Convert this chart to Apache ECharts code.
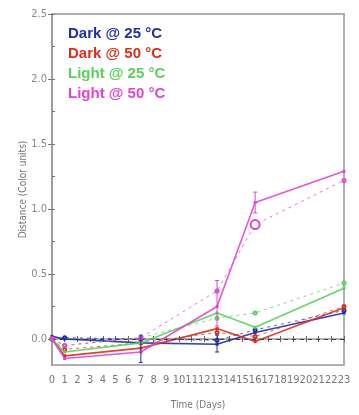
<!DOCTYPE html>
<html><head><meta charset="utf-8">
<script src="https://cdn.jsdelivr.net/npm/echarts@6/dist/echarts.min.js"></script>
<style>html,body{margin:0;padding:0;background:#fff}#c{width:359px;height:415px}</style>
</head><body><div id="c"></div>
<script>
// ---- data ----
const days = [0, 1, 7, 13, 16, 23];
const seriesNames = ['Dark @ 25 °C', 'Dark @ 50 °C', 'Light @ 25 °C', 'Light @ 50 °C'];
const dark25Solid  = [0.02, 0.00, -0.03, -0.04, 0.05, 0.20];
const dark25Dash   = [0.00, 0.01, 0.00, -0.01, 0.07, 0.22];
const dark50Solid  = [0.00, -0.13, -0.07, 0.08, -0.02, 0.24];
const dark50Dash   = [0.00, -0.08, -0.03, 0.05, 0.02, 0.25];
const light25Solid = [0.00, -0.10, -0.03, 0.20, 0.09, 0.39];
const light25Dash  = [0.00, -0.05, 0.01, 0.16, 0.20, 0.43];
const light50Solid = [0.00, -0.15, -0.10, 0.25, 1.05, 1.29];
const light50Dash  = [0.00, -0.05, 0.01, 0.37, 0.88, 1.22];
// error bars: [day, low, high, series index]
const errorBars = [[7, -0.18, 0.03, 0], [13, -0.10, 0.03, 0], [13, 0.10, 0.45, 3], [16, 0.97, 1.13, 3]];
const yLabelValues = [0, 0.5, 1.0, 1.5, 2.0, 2.5];
const yMinorValues = [0.25, 0.75, 1.25, 1.75, 2.25];
const xRange = [0, 23];
const yRange = [-0.2, 2.5];

const colors = ['#1f2fa6', '#d8301e', '#5ccf5c', '#e244cf'];
const solids = [dark25Solid, dark50Solid, light25Solid, light50Solid];
const dashes = [dark25Dash, dark50Dash, light25Dash, light50Dash];
const pair = arr => days.map((d, i) => [d, arr[i]]);

const series = [];
seriesNames.forEach((name, k) => {
  series.push({
    name, type: 'line', data: pair(solids[k]), color: colors[k],
    lineStyle: { width: 1.6, color: colors[k], opacity: 0.9 },
    symbol: 'rect', symbolSize: 3, itemStyle: { color: colors[k] },
    z: 3 + k
  });
  series.push({
    name, type: 'line', data: pair(dashes[k]), color: colors[k],
    lineStyle: { width: 1, type: [3, 4], color: colors[k], opacity: 0.75 },
    symbol: 'emptyCircle',
    symbolSize: (k === 3) ? ((v, p) => p.dataIndex === 4 ? 9 : 3) : 3,
    itemStyle: { color: colors[k], borderWidth: 1 },
    z: 2 + k,
    markLine: k === 0 ? {
      silent: true, symbol: 'none', label: { show: false },
      lineStyle: { color: '#3a3a5a', type: [4, 4], width: 1.2 },
      data: [{ yAxis: 0 }]
    } : undefined
  });
});
series.push({
  type: 'custom', name: 'err', z: 10,
  data: errorBars,
  renderItem: (params, api) => {
    const x = api.value(0), lo = api.value(1), hi = api.value(2), c = colors[api.value(3)];
    const p1 = api.coord([x, lo]), p2 = api.coord([x, hi]);
    return { type: 'group', children: [
      { type: 'line', shape: { x1: p1[0], y1: p1[1], x2: p2[0], y2: p2[1] }, style: { stroke: c, lineWidth: 1 } },
      { type: 'line', shape: { x1: p1[0]-2, y1: p1[1], x2: p1[0]+2, y2: p1[1] }, style: { stroke: c, lineWidth: 1 } },
      { type: 'line', shape: { x1: p2[0]-2, y1: p2[1], x2: p2[0]+2, y2: p2[1] }, style: { stroke: c, lineWidth: 1 } }
    ]};
  }
});

const narrow = '"Liberation Sans Narrow", "DejaVu Sans Condensed", "Liberation Sans", sans-serif';
const axisGray = '#9a9a9a';

const chart = echarts.init(document.getElementById('c'), null, { renderer: 'canvas' });
chart.setOption({
  animation: false,
  backgroundColor: '#fff',
  grid: { left: 52, right: 15, top: 14, bottom: 50, show: true, borderColor: '#b0b0b0', borderWidth: 2 },
  legend: {
    left: 58, top: 21, orient: 'vertical', itemGap: 5, icon: 'none', itemWidth: 0, itemHeight: 0,
    selectedMode: false,
    textStyle: { fontFamily: '"Liberation Sans", Arial, sans-serif', fontWeight: 'bold', fontSize: 15 },
    data: seriesNames.map((n, k) => ({ name: n, textStyle: { color: colors[k] } }))
  },
  xAxis: [{
    type: 'value', min: xRange[0], max: xRange[1], interval: 1, position: 'bottom',
    name: 'Time (Days)', nameLocation: 'middle', nameGap: 35, nameMoveOverlap: false,
    nameTextStyle: { color: '#777', fontSize: 10, fontFamily: narrow },
    axisLine: { lineStyle: { color: axisGray, width: 1.5 } },
    axisTick: { show: true, length: 3, lineStyle: { color: '#666' } },
    axisLabel: { color: '#777', fontSize: 11, fontFamily: narrow, margin: 10, hideOverlap: false },
    splitLine: { show: false }
  }, {
    type: 'value', min: xRange[0], max: xRange[1], interval: 1, position: 'bottom',
    axisLine: { show: false },
    axisTick: { show: true, inside: true, length: 3, lineStyle: { color: '#666' } },
    axisLabel: { show: false }, splitLine: { show: false }
  }],
  yAxis: [{
    type: 'value', min: yRange[0], max: yRange[1], position: 'left',
    name: 'Distance (Color units)', nameLocation: 'middle', nameGap: 24, nameRotate: 90,
    nameMoveOverlap: false,
    nameTextStyle: { color: '#777', fontSize: 10, fontFamily: narrow },
    axisLine: { show: true, lineStyle: { color: axisGray, width: 1.5 } },
    axisTick: { show: true, length: 4, customValues: yLabelValues, lineStyle: { color: '#777' } },
    axisLabel: { color: '#888', fontSize: 11, fontFamily: narrow, margin: 5,
      customValues: yLabelValues, formatter: v => v.toFixed(1) },
    splitLine: { show: false }
  }, {
    type: 'value', min: yRange[0], max: yRange[1], position: 'left',
    axisLine: { show: false },
    axisTick: { show: true, inside: true, length: 3, customValues: yLabelValues.concat(yMinorValues), lineStyle: { color: '#777' } },
    axisLabel: { show: false }, splitLine: { show: false }
  }],
  series
});
</script></body></html>
